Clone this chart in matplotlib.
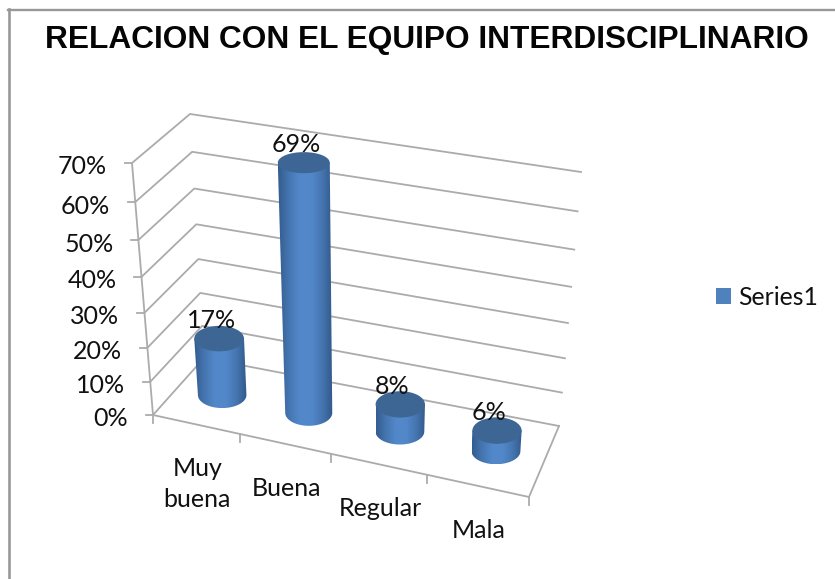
import numpy as np
import matplotlib
matplotlib.use("Agg")
import matplotlib.pyplot as plt
from matplotlib.colors import LinearSegmentedColormap
from matplotlib.patches import Patch, PathPatch, Ellipse
from matplotlib.path import Path

TITLE = "RELACION CON EL EQUIPO INTERDISCIPLINARIO"
categories = ["Muy\nbuena", "Buena", "Regular", "Mala"]
values = [17, 69, 8, 6]
value_labels = ["17%", "69%", "8%", "6%"]
y_ticks = [0, 10, 20, 30, 40, 50, 60, 70]
y_tick_labels = ["0%", "10%", "20%", "30%", "40%", "50%", "60%", "70%"]
series_name = "Series1"

W, H = 835, 579
VMAX = 70
# Screen corners of the 3D box, in pixels
A = np.array([153.0, 415.0])   # floor front-left
B = np.array([529.0, 497.0])   # floor front-right
C = np.array([204.0, 358.0])   # floor back-left
D = np.array([559.0, 426.0])   # floor back-right
E = np.array([132.0, 163.0])   # top front-left
F = np.array([543.0, 220.0])   # top front-right
G = np.array([190.0, 114.0])   # top back-left
K = np.array([581.0, 172.0])   # top back-right
PERSP_V = 1.1
PERSP_U = 1.11


def persp(t, k):
    return t / (t + k * (1 - t))


def project(u, depth, v):
    """u across categories 0..1, depth 0 front..1 back, v in value units."""
    u = persp(u, PERSP_U)
    t = persp(v / VMAX, PERSP_V)
    floor = (1 - depth) * ((1 - u) * A + u * B) + depth * ((1 - u) * C + u * D)
    top = (1 - depth) * ((1 - u) * E + u * F) + depth * ((1 - u) * G + u * K)
    return floor + (top - floor) * t


fig = plt.figure(figsize=(W / 100, H / 100), dpi=100, facecolor="white")
ax = fig.add_axes([0, 0, 1, 1])
ax.set_axis_off()

GRID = "#ababab"
BORDER = "#989898"
TEXT = "#111111"
FONT = "Lato"
FS = 18

# Chart border: only the left and top edges are visible
ax.plot([8.5, 8.5], [9, H], color=BORDER, lw=1.9, zorder=1)
ax.plot([8, W], [9.5, 9.5], color=BORDER, lw=1.7, zorder=1)

# Gridlines on side wall and back wall
for v, lab in zip(y_ticks, y_tick_labels):
    a, c, d = project(0, 0, v), project(0, 1, v), project(1, 1, v)
    ax.plot([a[0], c[0], d[0]], [a[1], c[1], d[1]], color=GRID, lw=1.3, zorder=2)
    ax.plot([a[0] - 7, a[0]], [a[1], a[1]], color=GRID, lw=1.3, zorder=2)
    ax.text(a[0] - 25, a[1] + 4, lab, ha="right", va="center", fontsize=FS,
            family=FONT, color=TEXT, zorder=6)

# Axis frame
p0, p1 = project(0, 0, 0), project(0, 0, VMAX)
ax.plot([p0[0], p1[0]], [p0[1], p1[1]], color=GRID, lw=1.3, zorder=2)
corners = [project(0, 0, 0), project(1, 0, 0), project(1, 1, 0)]
ax.plot(*zip(*corners), color=GRID, lw=1.3, zorder=2)

# Category ticks and labels
for i in range(len(categories) + 1):
    q = project(i / len(categories), 0, 0)
    ax.plot([q[0], q[0]], [q[1], q[1] + 8], color=GRID, lw=1.3, zorder=2)
for i, name in enumerate(categories):
    q = project((i + 0.5) / len(categories), 0, 0)
    ax.text(q[0] + 1.5, q[1] + 33, name, ha="center", va="top", fontsize=FS, family=FONT,
            color=TEXT, linespacing=1.38, zorder=6)

# Cylinders
cmap = LinearSegmentedColormap.from_list(
    "cyl", ["#345d8f", "#4676b2", "#5288ca", "#5288ca", "#4676b2", "#325a8b"])
SHIFT_X = 2.0
RX = 24.5
for i, v in enumerate(values):
    u = (i + 0.5) / len(values)
    b = project(u, 0.5, 0) + [SHIFT_X, 0]
    t = project(u, 0.5, v) + [SHIFT_X, 0]
    frac = v / VMAX
    ry_top = 13.5 - 3 * frac
    rx_top = RX + 1.5 * frac
    rx_bot = RX - 1.0 * frac
    ry_bot = 13.0
    th = np.linspace(0, np.pi, 40)
    xs = np.r_[t[0] - rx_top, t[0] + rx_top, b[0] + rx_bot * np.cos(th)]
    ys = np.r_[t[1], t[1], b[1] + ry_bot * np.sin(th)]
    verts = np.column_stack([xs, ys])
    path = Path(np.vstack([verts, verts[0]]), closed=True)
    clip = PathPatch(path, transform=ax.transData, fc="none", ec="none")
    ax.add_patch(clip)
    x0, x1 = xs.min(), xs.max()
    y0, y1 = ys.min(), ys.max()
    im = ax.imshow(np.linspace(0, 1, 64).reshape(1, -1), cmap=cmap, aspect="auto",
                   extent=[x0, x1, y1, y0], zorder=3, interpolation="bilinear")
    im.set_clip_path(clip)
    ax.add_patch(Ellipse(t, 2 * rx_top, 2 * ry_top, fc="#3e6695", ec="none", zorder=4))
    ax.text(t[0] - 8, t[1] - 18, value_labels[i], ha="center", va="center",
            fontsize=FS, family=FONT, color=TEXT, zorder=6)

ax.set_xlim(0, W)
ax.set_ylim(H, 0)

ax.text(426.5, 40, TITLE, ha="center", va="center", fontsize=22.75, fontweight="bold",
        family="Liberation Sans", color="#050505", zorder=6)

legend = ax.legend(handles=[Patch(fc="#4f81bd", ec="none", label=series_name)],
                   loc="center left", bbox_to_anchor=(716, 297.5),
                   bbox_transform=ax.transData, frameon=False, handlelength=0.62,
                   handleheight=0.62, handletextpad=0.28, borderpad=0, borderaxespad=0,
                   prop={"family": FONT, "size": 17.8}, labelcolor=TEXT)

fig.savefig("out.png", dpi=100, facecolor="white")
